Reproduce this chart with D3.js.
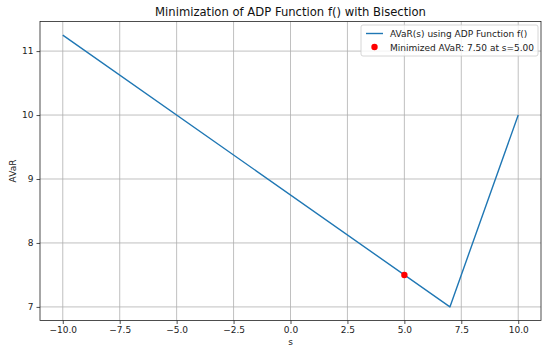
<!DOCTYPE html>
<html>
<head>
<meta charset="utf-8">
<script src="https://cdn.jsdelivr.net/npm/d3@7"></script>
<style>
  html, body { margin: 0; padding: 0; background: #fff; }
  svg { display: block; font-family: "DejaVu Sans", sans-serif; }
</style>
</head>
<body>
<svg id="chart" width="542" height="349"></svg>
<script>
// AVaR curve evaluated over s (piecewise linear, kink at s = 7)
const sValues = [-10, 7, 10];
const avarValues = [11.25, 7.0, 10.0];

// Minimum found by bisection
const minS = [5.0];
const minAvar = [7.5];

const xTicks = [-10, -7.5, -5, -2.5, 0, 2.5, 5, 7.5, 10];
const yTicks = [7, 8, 9, 10, 11];

const titleText = "Minimization of ADP Function f() with Bisection";
const xLabel = "s";
const yLabel = "AVaR";
const lineLabel = "AVaR(s) using ADP Function f()";
const pointLabel = "Minimized AVaR: 7.50 at s=5.00";

const W = 542, H = 349;
const plot = { left: 40, right: 541, top: 21.5, bottom: 320.5 };
const FS = 9;

const svg = d3.select("#chart");

const xExt = d3.extent(sValues);
const xPad = (xExt[1] - xExt[0]) * 0.05;
const yExt = d3.extent(avarValues.concat(minAvar));
const yPad = (yExt[1] - yExt[0]) * 0.05;

const x = d3.scaleLinear()
  .domain([xExt[0] - xPad, xExt[1] + xPad])
  .range([plot.left, plot.right]);
const y = d3.scaleLinear()
  .domain([yExt[0] - yPad, yExt[1] + yPad])
  .range([plot.bottom, plot.top]);

const fmtX = v => d3.format(".1f")(v).replace("-", "\u2212");

// grid
const grid = svg.append("g").attr("stroke", "#b0b0b0").attr("stroke-width", 0.8);
xTicks.forEach(t => grid.append("line")
  .attr("x1", x(t)).attr("x2", x(t))
  .attr("y1", plot.top).attr("y2", plot.bottom));
yTicks.forEach(t => grid.append("line")
  .attr("x1", plot.left).attr("x2", plot.right)
  .attr("y1", y(t)).attr("y2", y(t)));

// axes
const xAxis = svg.append("g")
  .attr("transform", `translate(0,${plot.bottom})`)
  .call(d3.axisBottom(x).tickValues(xTicks).tickFormat(fmtX).tickSize(3.5).tickPadding(3));
const yAxis = svg.append("g")
  .attr("transform", `translate(${plot.left},0)`)
  .call(d3.axisLeft(y).tickValues(yTicks).tickFormat(d3.format("d")).tickSize(3.5).tickPadding(3));

[xAxis, yAxis].forEach(a => {
  a.select(".domain").remove();
  a.selectAll("text").attr("font-size", FS).attr("fill", "#222")
    .attr("font-family", "DejaVu Sans, sans-serif");
  a.selectAll(".tick line").attr("stroke", "#222").attr("stroke-width", 0.8);
});

// frame
svg.append("rect")
  .attr("x", plot.left).attr("y", plot.top)
  .attr("width", plot.right - plot.left).attr("height", plot.bottom - plot.top)
  .attr("fill", "none").attr("stroke", "#222").attr("stroke-width", 0.8);

// curve
const pts = sValues.map((s, i) => [s, avarValues[i]]);
svg.append("path")
  .datum(pts)
  .attr("fill", "none")
  .attr("stroke", "#1f77b4")
  .attr("stroke-width", 1.4)
  .attr("stroke-linejoin", "round")
  .attr("d", d3.line().x(d => x(d[0])).y(d => y(d[1])));

// minimum point
svg.selectAll("circle.min")
  .data(minS.map((s, i) => [s, minAvar[i]]))
  .join("circle")
  .attr("class", "min")
  .attr("cx", d => x(d[0])).attr("cy", d => y(d[1]))
  .attr("r", 3.2).attr("fill", "red");

// title and labels
svg.append("text")
  .attr("x", (plot.left + plot.right) / 2).attr("y", 16)
  .attr("text-anchor", "middle").attr("font-size", 11.6).attr("fill", "#111")
  .text(titleText);
svg.append("text")
  .attr("x", (plot.left + plot.right) / 2).attr("y", 345)
  .attr("text-anchor", "middle").attr("font-size", FS).attr("fill", "#222")
  .text(xLabel);
svg.append("text")
  .attr("transform", `translate(16,${(plot.top + plot.bottom) / 2}) rotate(-90)`)
  .attr("text-anchor", "middle").attr("font-size", FS).attr("fill", "#222")
  .text(yLabel);

// legend
const lg = svg.append("g").attr("transform", "translate(361,25)");
lg.append("rect")
  .attr("x", 0).attr("y", 0).attr("width", 177).attr("height", 31)
  .attr("rx", 2).attr("fill", "rgba(255,255,255,0.8)")
  .attr("stroke", "#ccc").attr("stroke-width", 0.8);
lg.append("line")
  .attr("x1", 5).attr("x2", 22).attr("y1", 8.5).attr("y2", 8.5)
  .attr("stroke", "#1f77b4").attr("stroke-width", 1.4);
lg.append("circle").attr("cx", 13.5).attr("cy", 22).attr("r", 3.2).attr("fill", "red");
lg.append("text").attr("x", 29).attr("y", 12).attr("font-size", FS).attr("fill", "#222")
  .text(lineLabel);
lg.append("text").attr("x", 29).attr("y", 25.5).attr("font-size", FS).attr("fill", "#222")
  .text(pointLabel);
</script>
</body>
</html>
